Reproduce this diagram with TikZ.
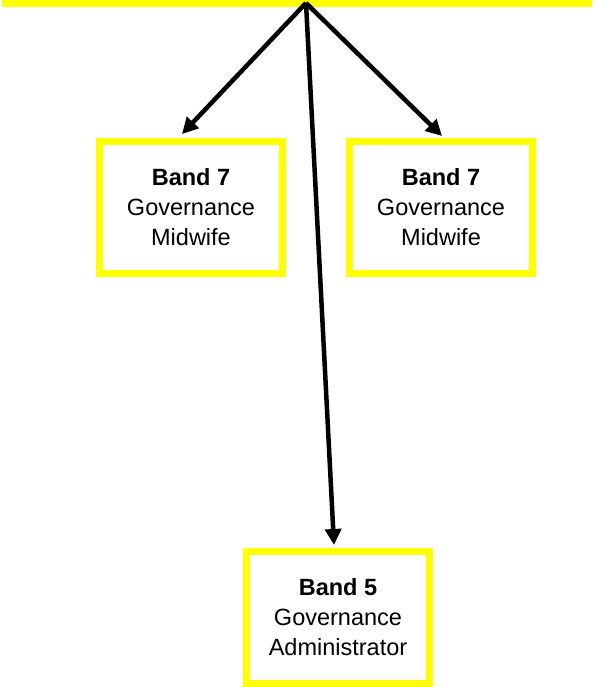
\documentclass[tikz,border=0pt]{standalone}
\usepackage{fontspec}
\setmainfont{Liberation Sans}
\usetikzlibrary{arrows.meta,calc}
\definecolor{boxyellow}{RGB}{255,255,0}
\tikzset{
  post/.style={draw=boxyellow, line width=7pt, fill=white,
    minimum width=183pt, minimum height=132pt, inner sep=0pt,
    align=center, font=\fontsize{23.5}{30}\selectfont},
  link/.style={line width=4.5pt, -{Triangle[length=16pt,width=16pt]}},
}
\begin{document}
\begin{tikzpicture}[x=1pt,y=1pt]
\useasboundingbox (0,0) rectangle (592,687);
\begin{scope}
\clip (0,0) rectangle (592,687);
\node[draw=boxyellow, line width=7pt, minimum width=582.5pt, minimum height=40pt, inner sep=0pt] (top) at (296.75,703) {};
\end{scope}
\coordinate (apex) at (306,684);
\node[post] (b1) at (191,479.5) {\textbf{Band 7}\\Governance\\Midwife};
\node[post] (b2) at (441,479.5) {\textbf{Band 7}\\Governance\\Midwife};
\node[post] (b3) at (338,69.5) {\textbf{Band 5}\\Governance\\Administrator};
\draw[link] (apex) -- ([xshift=-9pt,yshift=4pt]b1.north);
\draw[link] (apex) -- ([xshift=1pt,yshift=2pt]b2.north);
\draw[link] (apex) -- ([xshift=-4pt,yshift=3pt]b3.north);
\end{tikzpicture}
\end{document}
